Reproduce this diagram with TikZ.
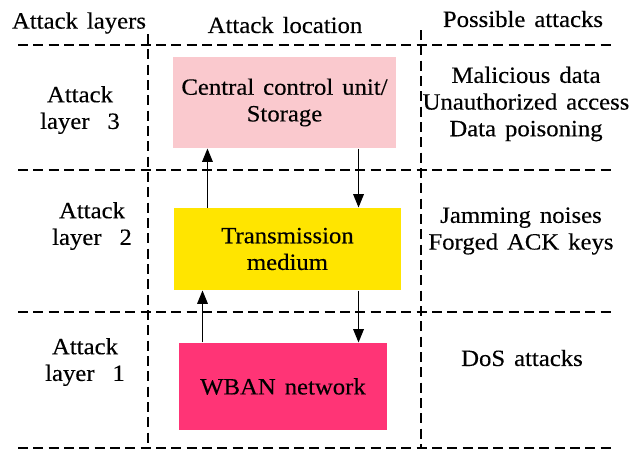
\documentclass[tikz,border=0pt]{standalone}
\usepackage{fontspec}
\setmainfont[FakeStretch=1.06,WordSpace=1.45,FakeBold=0.3]{Liberation Serif}
\usetikzlibrary{arrows.meta}
\definecolor{storepink}{RGB}{250,201,206}
\definecolor{mediumyellow}{RGB}{255,229,0}
\definecolor{wbanrose}{RGB}{255,52,118}
\tikzset{every picture/.style={line width=0.75pt}}
\tikzset{
  gridline/.style={dash pattern=on 7.5pt off 4pt, line width=1.6pt},
  layertext/.style={inner sep=0pt, align=center, font=\fontsize{17.5}{20}\selectfont},
  flow/.style={-{Triangle[length=10pt,width=8pt]}, line width=0.8pt}
}

\begin{document}
\begin{tikzpicture}[x=0.75pt,y=0.75pt,yscale=-1,xscale=1]
		\path[use as bounding box] (0,0) rectangle (640,454);
		
		%Dashed lines: layers
		\draw [gridline] (18,45) -- (615,45) ;
		\draw [gridline] (18,170) -- (615,170) ;
		\draw [gridline] (18,312) -- (615,312) ;
		\draw [gridline] (18,448) -- (615,448) ;
		%Dashed lines: columns
		\draw [gridline] (148,34) -- (148,448) ;
		\draw [gridline] (421,30) -- (421,448) ;
		
		% Text Node
		\node [layertext] (hlayers) at (79,23) {Attack layers};
		% Text Node
		\node [layertext] (hlocation) at (285,25) {Attack location};
		% Text Node
		\node [layertext] (hattacks) at (523,19) {Possible attacks};
		
		% Text Node
		\node [layertext] (layer3) at (80,110) {Attack\\layer\ \ 3};
		% Text Node
		\node [layertext] (layer2) at (92,226) {Attack\\layer\ \ 2};
		% Text Node
		\node [layertext] (layer1) at (85,362) {Attack\\layer\ \ 1};
		
		%Shape: Rectangle
		\node [layertext, fill=storepink, minimum width=167.3pt, minimum height=68.3pt] (central) at (284.5,102.5) {Central control unit/\\Storage};
		%Shape: Rectangle
		\node [layertext, fill=mediumyellow, minimum width=170.3pt, minimum height=61.5pt] (trans) at (287.5,249) {Transmission\\medium};
		%Shape: Rectangle
		\node [layertext, fill=wbanrose, minimum width=156pt, minimum height=65.3pt] (wban) at (283,386.5) {WBAN network};
		
		%Arrows
		\draw [flow] ([xshift=25.5pt]trans.north west) coordinate (up2) -- (up2 |- central.south) ;
		\draw [flow] ([xshift=-28.5pt]central.south east) coordinate (dn2) -- (dn2 |- trans.north) ;
		\draw [flow] ([xshift=18pt]wban.north west) coordinate (up1) -- (up1 |- trans.south) ;
		\draw [flow] ([xshift=-32.25pt]trans.south east) coordinate (dn1) -- (dn1 |- wban.north) ;
		
		% Text Node
		\node [layertext] (attacks3) at (526,104) {Malicious data\\Unauthorized access\\Data poisoning};
		% Text Node
		\node [layertext] (attacks2) at (521,231) {Jamming noises\\Forged ACK keys};
		% Text Node
		\node [layertext] (attacks1) at (522,358) {DoS attacks};
		
\end{tikzpicture}
\end{document}
